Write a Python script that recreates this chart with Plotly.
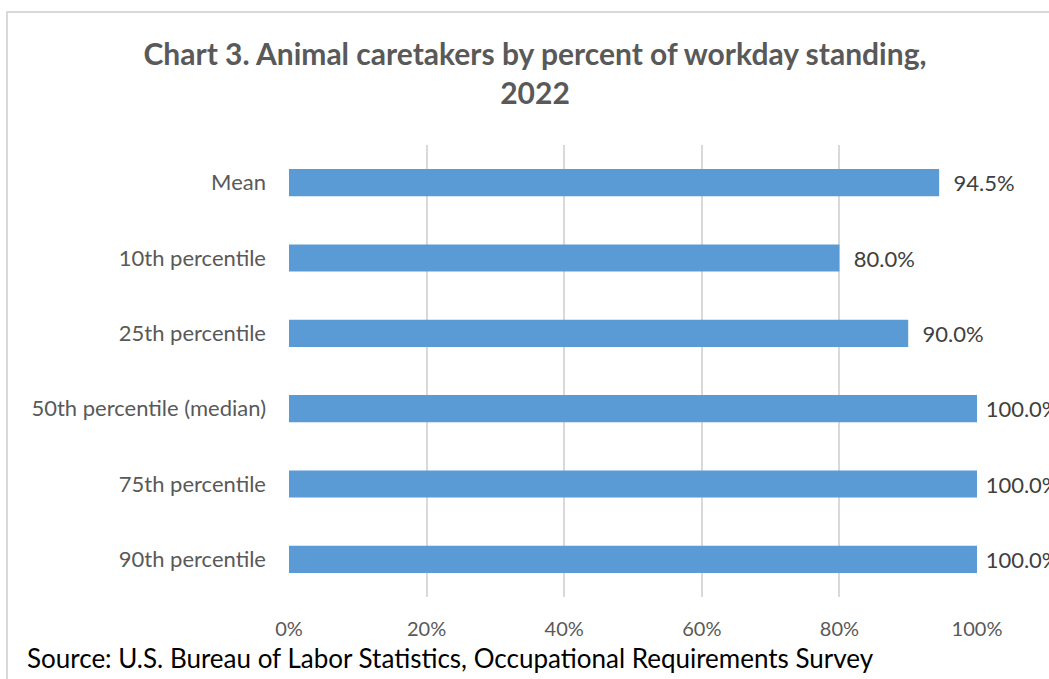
import plotly.graph_objects as go

categories = ["Mean", "10th percentile", "25th percentile", "50th percentile (median)", "75th percentile", "90th percentile"]
values = [94.5, 80.0, 90.0, 100.0, 100.0, 100.0]
tick_vals = [0, 20, 40, 60, 80, 100]
tick_text = ["0%", "20%", "40%", "60%", "80%", "100%"]

W, H = 1049, 679
L, R, T, B = 289, 977, 145, 597

labels = [("\u00a0" if v >= 100 else "\u00a0\u00a0") + f"{v:.1f}%" for v in values]

fig = go.Figure(go.Bar(
    y=categories, x=values, orientation="h",
    marker=dict(color="#5B9BD5", line=dict(width=0)),
    text=labels, textposition="outside",
    textfont=dict(color="#404040", size=22, family="Lato"),
    cliponaxis=False,
))

fig.update_layout(
    width=W, height=H,
    margin=dict(l=L, r=W - R, t=T, b=H - B, pad=0),
    paper_bgcolor="white", plot_bgcolor="white",
    bargap=0.64,
    showlegend=False,
    font=dict(family="Lato", color="#595959"),
    title=dict(
        text="<b>Chart 3. Animal caretakers by percent of workday standing,<br>2022</b>",
        x=535 / W, xanchor="center", xref="container",
        y=1 - 65 / H, yanchor="top", yref="container",
        font=dict(size=30, color="#595959", family="Lato"),
    ),
    xaxis=dict(
        range=[0, 100], tickvals=tick_vals, ticktext=tick_text,
        showgrid=True, gridcolor="#d9d9d9", gridwidth=1.5,
        zeroline=False, showline=False, ticks="",
        tickfont=dict(size=20, color="#595959"), ticklabelstandoff=18,
        fixedrange=True,
    ),
    yaxis=dict(
        autorange="reversed", showgrid=False, zeroline=False,
        showline=False, ticks="", ticklabelstandoff=22,
        tickfont=dict(size=22, color="#595959"),
    ),
    shapes=[dict(
        type="rect", xref="paper", yref="paper",
        x0=(7 - L) / (R - L), x1=1.3,
        y0=-0.4, y1=(B - 12) / (B - T),
        line=dict(color="#d9d9d9", width=2), fillcolor="rgba(0,0,0,0)", layer="below",
    )],
    annotations=[dict(
        text="Source: U.S. Bureau of Labor Statistics, Occupational Requirements Survey",
        xref="paper", yref="paper",
        x=(25 - L) / (R - L), xanchor="left",
        y=(B - 658) / (B - T), yanchor="middle",
        showarrow=False, font=dict(size=26, color="#000000", family="Lato"),
    )],
)

fig.write_html("out.html", config={"displayModeBar": False},
               post_script="document.body.style.margin='0';")
